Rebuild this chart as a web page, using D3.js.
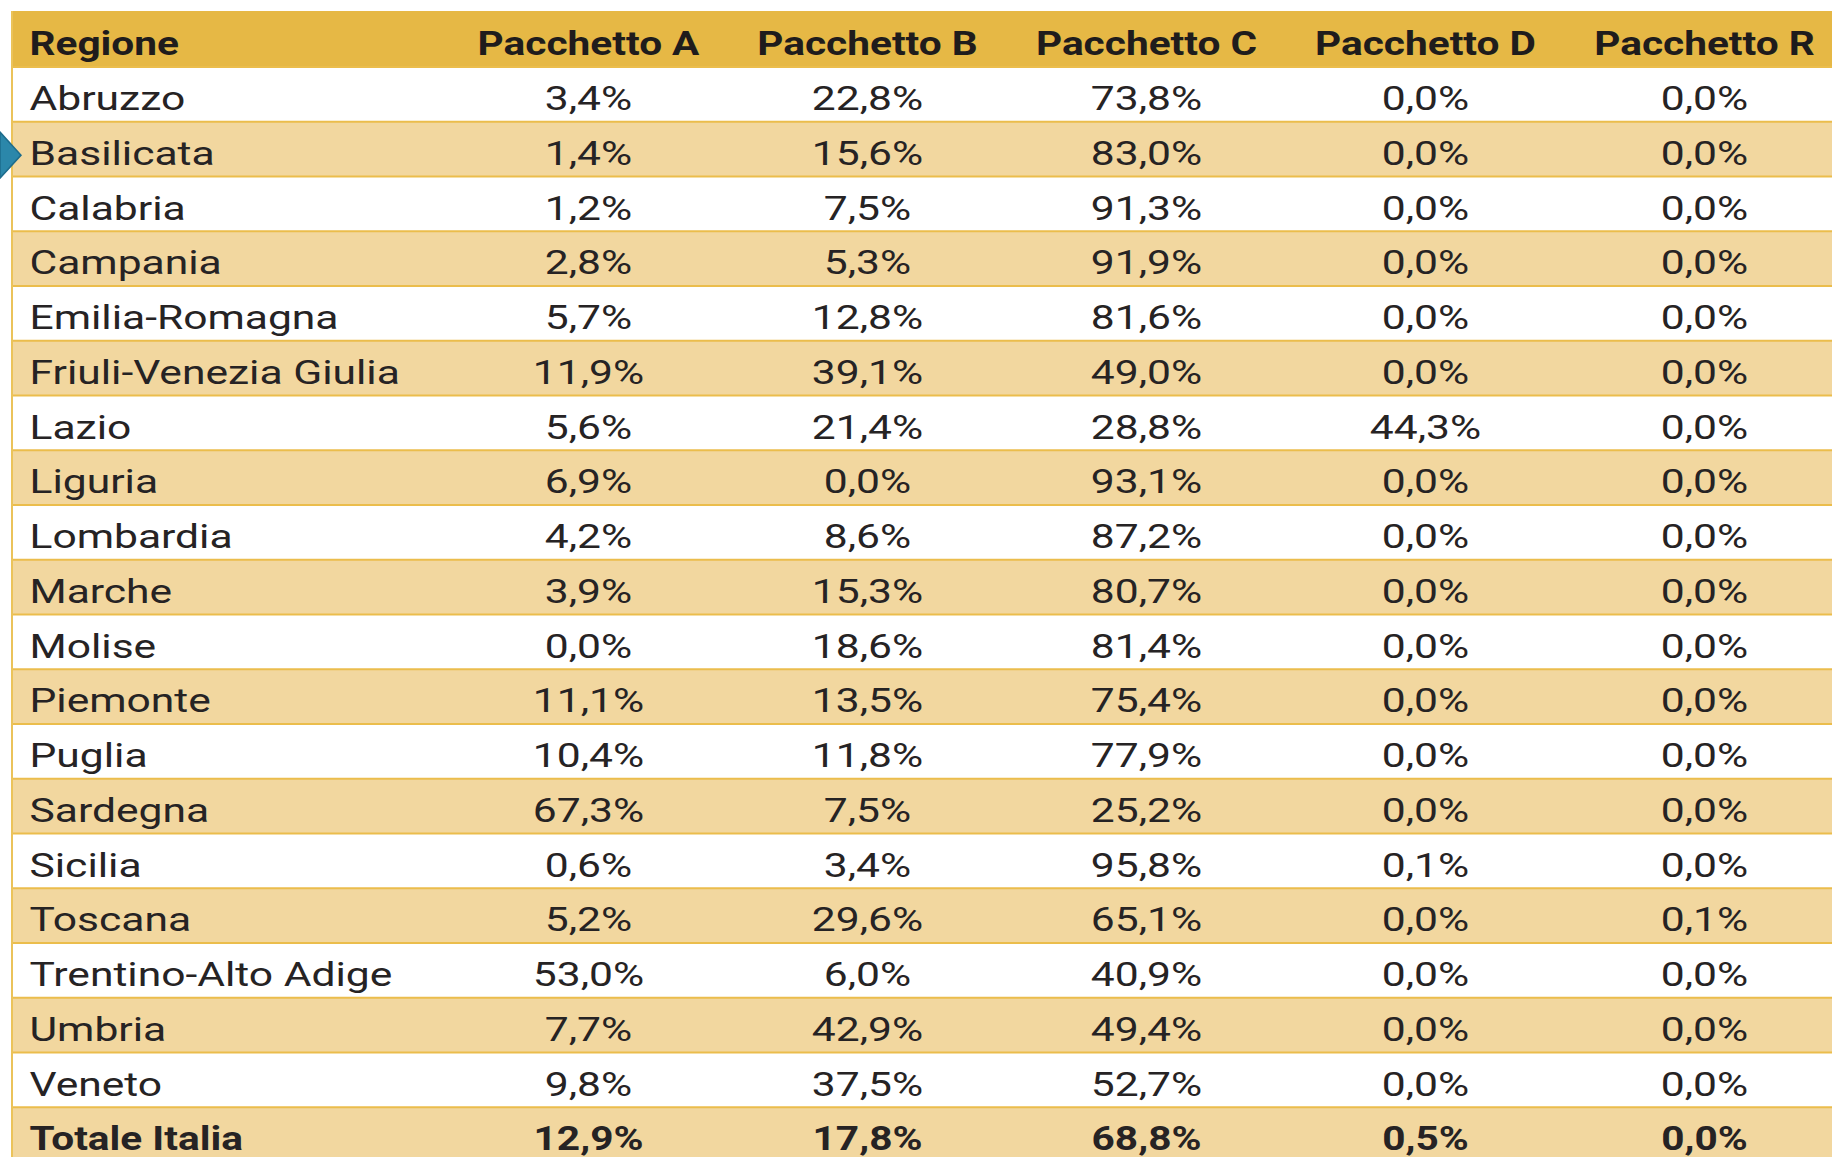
<!DOCTYPE html>
<html>
<head>
<meta charset="utf-8">
<script src="https://cdn.jsdelivr.net/npm/d3@7.9.0/dist/d3.min.js"></script>
<style>
  html, body { margin: 0; padding: 0; background: #fff; }
  svg { display: block; }
  text { font-family: Roboto, "Noto Sans", sans-serif; fill: #262324; }
</style>
</head>
<body>
<div id="chart"></div>
<script>
// table content
const columns = ['Pacchetto A', 'Pacchetto B', 'Pacchetto C', 'Pacchetto D', 'Pacchetto R'];
const regions = ['Abruzzo', 'Basilicata', 'Calabria', 'Campania', 'Emilia-Romagna',
  'Friuli-Venezia Giulia', 'Lazio', 'Liguria', 'Lombardia', 'Marche', 'Molise',
  'Piemonte', 'Puglia', 'Sardegna', 'Sicilia', 'Toscana', 'Trentino-Alto Adige',
  'Umbria', 'Veneto'];
const pkgA = [3.4, 1.4, 1.2, 2.8, 5.7, 11.9, 5.6, 6.9, 4.2, 3.9, 0.0, 11.1, 10.4, 67.3, 0.6, 5.2, 53.0, 7.7, 9.8];
const pkgB = [22.8, 15.6, 7.5, 5.3, 12.8, 39.1, 21.4, 0.0, 8.6, 15.3, 18.6, 13.5, 11.8, 7.5, 3.4, 29.6, 6.0, 42.9, 37.5];
const pkgC = [73.8, 83.0, 91.3, 91.9, 81.6, 49.0, 28.8, 93.1, 87.2, 80.7, 81.4, 75.4, 77.9, 25.2, 95.8, 65.1, 40.9, 49.4, 52.7];
const pkgD = [0.0, 0.0, 0.0, 0.0, 0.0, 0.0, 44.3, 0.0, 0.0, 0.0, 0.0, 0.0, 0.0, 0.0, 0.1, 0.0, 0.0, 0.0, 0.0];
const pkgR = [0.0, 0.0, 0.0, 0.0, 0.0, 0.0, 0.0, 0.0, 0.0, 0.0, 0.0, 0.0, 0.0, 0.0, 0.0, 0.1, 0.0, 0.0, 0.0];
const totalLabel = 'Totale Italia';
const totals = [12.9, 17.8, 68.8, 0.5, 0.0];

const width = 1832;
const height = 1157;
const tableLeft = 12;
const headerTop = 11;
const headerH = 56;
const rowH = 54.75;
const nameX = 29.5;
// the source font is set wide, so stretch the glyphs a bit
const headScale = 1.23;
const bodyScale = 1.29;
const fontSize = 33;

const it = d3.formatLocale({ decimal: ',', thousands: '.', grouping: [3], currency: ['€', ''] });
const pct = v => it.format('.1f')(v) + '%';

const rows = regions.map((r, i) => ({
  name: r,
  values: [pkgA[i], pkgB[i], pkgC[i], pkgD[i], pkgR[i]],
  total: false
}));
rows.push({ name: totalLabel, values: totals, total: true });

const x = d3.scaleBand().domain(columns).range([449, 1844]);
const y = d3.scaleBand().domain(d3.range(rows.length))
  .range([headerTop + headerH, headerTop + headerH + rowH * rows.length]);

const svg = d3.select('#chart').append('svg')
  .attr('width', width)
  .attr('height', height);

// header band
svg.append('rect')
  .attr('x', tableLeft).attr('y', headerTop)
  .attr('width', width - tableLeft).attr('height', headerH)
  .attr('fill', '#e6b845');

// body rows
const rowG = svg.selectAll('g.row')
  .data(rows)
  .join('g')
  .attr('class', 'row')
  .attr('transform', (d, i) => `translate(0, ${y(i)})`);

rowG.append('rect')
  .attr('x', tableLeft).attr('y', 0)
  .attr('width', width - tableLeft).attr('height', rowH)
  .attr('fill', (d, i) => i % 2 ? '#f2d79f' : '#ffffff');

rowG.append('line')
  .attr('x1', tableLeft).attr('x2', width)
  .attr('y1', 0).attr('y2', 0)
  .attr('stroke', '#ebbd4c')
  .attr('stroke-width', 2);

// left border
svg.append('line')
  .attr('x1', tableLeft).attr('x2', tableLeft)
  .attr('y1', headerTop).attr('y2', height)
  .attr('stroke', '#ebc35a')
  .attr('stroke-width', 2);

const baseOff = 43;

// header labels
svg.append('text')
  .attr('transform', `translate(${nameX}, ${headerTop + baseOff + 1}) scale(${headScale},1)`)
  .attr('font-size', fontSize).attr('font-weight', 700)
  .style('fill', '#1f1c1c')
  .text('Regione');

svg.selectAll('text.colhead')
  .data(columns)
  .join('text')
  .attr('class', 'colhead')
  .attr('text-anchor', 'middle')
  .attr('transform', d => `translate(${x(d) + x.bandwidth() / 2}, ${headerTop + baseOff + 1}) scale(${headScale},1)`)
  .attr('font-size', fontSize).attr('font-weight', 700)
  .style('fill', '#1f1c1c')
  .text(d => d);

// region names
rowG.append('text')
  .attr('transform', d => `translate(${nameX}, ${baseOff}) scale(${d.total ? headScale : bodyScale},1)`)
  .attr('font-size', fontSize)
  .attr('font-weight', d => d.total ? 700 : 400)
  .text(d => d.name);

// values
rowG.selectAll('text.val')
  .data(d => d.values.map((v, j) => ({ v, col: columns[j], total: d.total })))
  .join('text')
  .attr('class', 'val')
  .attr('text-anchor', 'middle')
  .attr('transform', d => `translate(${x(d.col) + x.bandwidth() / 2}, ${baseOff}) scale(${d.total ? headScale : bodyScale},1)`)
  .attr('font-size', fontSize)
  .attr('font-weight', d => d.total ? 700 : 400)
  .text(d => pct(d.v));

// blue marker pointing at the second row
const mk = y(1) + rowH / 2 + 6;
svg.append('path')
  .attr('d', `M0,${mk - 23}L21,${mk}L0,${mk + 23}Z`)
  .attr('fill', '#2b87aa')
  .attr('stroke', '#1d6c8c')
  .attr('stroke-width', 1.5);
</script>
</body>
</html>
